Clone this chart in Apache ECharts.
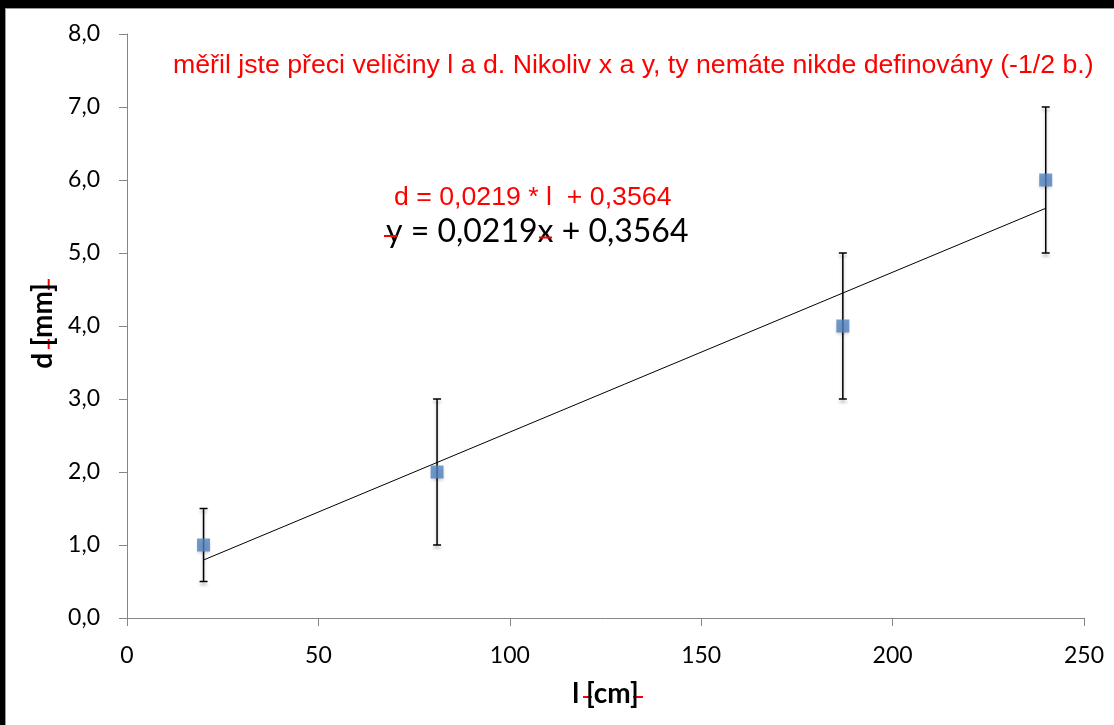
<!DOCTYPE html>
<html><head><meta charset="utf-8">
<script src="https://cdn.jsdelivr.net/npm/echarts@6/dist/echarts.min.js"></script>
<style>html,body{margin:0;padding:0;background:#000;width:1114px;height:725px;overflow:hidden}
#c{position:absolute;left:5px;top:8px;width:1109px;height:717px;background:#fff;border-top:1px solid #999;border-left:1px solid #999;box-sizing:border-box}</style>
</head><body><div id="c"></div>
<script>
// data
const lengths = [20, 81, 187, 240];      // l [cm]
const diameters = [1, 2, 4, 6];          // d [mm]
const errLow = [0.5, 1, 3, 5];
const errHigh = [1.5, 3, 5, 7];
const slope = 0.0219;
const intercept = 0.3564;
const title = 'měřil jste přeci veličiny l a d. Nikoliv x a y, ty nemáte nikde definovány (-1/2 b.)';
const eqRed = 'd = 0,0219 * l  + 0,3564';
const eqBlack = 'y = 0,0219x + 0,3564';

const xMin = Math.min(...lengths), xMax = Math.max(...lengths);
const trend = [[xMin, slope * xMin + intercept], [xMax, slope * xMax + intercept]];

const chart = echarts.init(document.getElementById('c'));
const axisCol = '#868686';
const labelFont = 'Lato';
chart.setOption({
  animation: false,
  backgroundColor: '#fff',
  title: {
    text: title, left: 167, top: 43, padding: 0,
    textStyle: {color: '#ff0000', fontFamily: 'Liberation Sans', fontWeight: 'normal', fontSize: 26.7}
  },
  grid: {left: 121, right: 30, top: 25, bottom: 107},
  xAxis: {
    type: 'value', min: 0, max: 250, interval: 50,
    name: 'l [cm]', nameLocation: 'middle', nameGap: 62,
    nameTextStyle: {fontFamily: labelFont, fontWeight: 'bold', fontSize: 28, color: '#000'},
    axisLine: {show: true, lineStyle: {color: axisCol, width: 1}},
    axisTick: {show: true, length: 8, inside: false, lineStyle: {color: axisCol}},
    axisLabel: {fontFamily: labelFont, fontSize: 23, color: '#000', margin: 26},
    splitLine: {show: false}
  },
  yAxis: {
    type: 'value', min: 0, max: 8, interval: 1,
    name: 'd [mm]', nameLocation: 'middle', nameGap: 68, nameRotate: 90,
    nameTextStyle: {fontFamily: labelFont, fontWeight: 'bold', fontSize: 28, color: '#000'},
    axisLine: {show: true, lineStyle: {color: axisCol, width: 1}},
    axisTick: {show: true, length: 8, inside: false, lineStyle: {color: axisCol}},
    axisLabel: {fontFamily: labelFont, fontSize: 23, color: '#000', margin: 27,
      formatter: v => v.toFixed(1).replace('.', ',')},
    splitLine: {show: false}
  },
  series: [
    {
      type: 'custom', z: 1,
      data: lengths.map((x, i) => [x, errLow[i], errHigh[i]]),
      renderItem: function (params, api) {
        const x = api.value(0);
        const lo = api.coord([x, api.value(1)]);
        const hi = api.coord([x, api.value(2)]);
        const w = 4;
        const st = {stroke: '#000', lineWidth: 1.5, shadowBlur: 3, shadowOffsetY: 3, shadowColor: 'rgba(0,0,0,0.25)'};
        return {type: 'group', children: [
          {type: 'line', shape: {x1: lo[0], y1: lo[1], x2: hi[0], y2: hi[1]}, style: st},
          {type: 'line', shape: {x1: lo[0] - w, y1: lo[1], x2: lo[0] + w, y2: lo[1]}, style: st},
          {type: 'line', shape: {x1: hi[0] - w, y1: hi[1], x2: hi[0] + w, y2: hi[1]}, style: st}
        ]};
      }
    },
    {
      type: 'line', z: 2, data: trend, symbol: 'none',
      lineStyle: {color: '#000', width: 1}
    },
    {
      type: 'scatter', z: 3, symbol: 'rect', symbolSize: 13,
      data: lengths.map((x, i) => [x, diameters[i]]),
      itemStyle: {color: '#4F81BD', shadowBlur: 3, shadowOffsetY: 2, shadowColor: 'rgba(0,0,0,0.2)'}
    }
  ],
  graphic: [
    {type: 'text', left: 388, top: 175, style: {text: eqRed, fill: '#ff0000', font: '26.7px "Liberation Sans"'}},
    {type: 'text', left: 380, top: 207, style: {text: eqBlack, fill: '#000', font: '32px Lato'}},
    // red strike marks
    {type: 'line', shape: {x1: 378, y1: 227, x2: 391, y2: 227}, style: {stroke: '#ff0000', lineWidth: 2}},
    {type: 'line', shape: {x1: 533, y1: 228.5, x2: 546, y2: 228.5}, style: {stroke: '#ff0000', lineWidth: 2}},
    {type: 'line', shape: {x1: 42.7, y1: 270, x2: 42.7, y2: 281}, style: {stroke: '#ff0000', lineWidth: 2}},
    {type: 'line', shape: {x1: 42.7, y1: 330, x2: 42.7, y2: 340}, style: {stroke: '#ff0000', lineWidth: 2}},
    {type: 'line', shape: {x1: 577, y1: 688, x2: 586, y2: 688}, style: {stroke: '#ff0000', lineWidth: 2}},
    {type: 'line', shape: {x1: 627, y1: 688, x2: 637, y2: 688}, style: {stroke: '#ff0000', lineWidth: 2}}
  ]
});
</script></body></html>
